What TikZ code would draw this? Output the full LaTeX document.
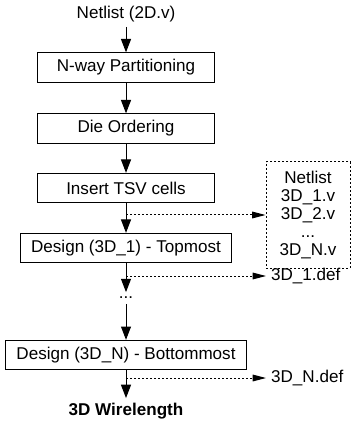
\documentclass[tikz,border=0pt]{standalone}
\usepackage{fontspec}
\setmainfont{Liberation Sans}
\usetikzlibrary{arrows.meta}

\begin{document}
\begin{tikzpicture}[x=0.75pt, y=-0.75pt, line width=0.75pt,
		font=\fontsize{12.8}{13.5}\selectfont,
		stage/.style={draw, minimum height=22pt, inner xsep=8pt},
		fixedstage/.style={stage, minimum width=133pt},
		netbox/.style={draw, dash pattern=on 1.5pt off 1.5pt, align=center, minimum width=63pt, minimum height=79.5pt},
		flow/.style={-{Triangle[length=10pt, width=7.5pt]}},
		outflow/.style={-{Triangle[length=10pt, width=5pt]}, dash pattern=on 1.5pt off 1.5pt}]
		\useasboundingbox (0,0) rectangle (351,423);
		% main flow
		\node (src) at (126,14) {Netlist (2D.v)};
		\node[fixedstage] (part) at (126,67.5) {N-way Partitioning};
		\node[fixedstage] (order) at (126,128.5) {Die Ordering};
		\node[fixedstage] (tsv) at (126,188) {Insert TSV cells};
		\node[stage] (top) at (126,248) {Design (3D\_1) - Topmost};
		\node (dots) at (126,298) {...};
		\node[stage] (bot) at (126,355) {Design (3D\_N) - Bottommost};
		\node[font=\fontsize{12.8}{13.5}\selectfont\bfseries] (wl) at (126,411) {3D Wirelength};
		% outputs
		\node[netbox] (nets) at (308,215) {Netlist\\3D\_1.v\\3D\_2.v\\...\\3D\_N.v};
		\node[anchor=west, inner xsep=3.5pt] (def1) at (266,276) {3D\_1.def};
		\node[anchor=west, inner xsep=3.5pt] (defn) at (266,378) {3D\_N.def};
		\foreach \a/\b in {src/part, part/order, order/tsv, tsv/top, top/dots, dots/bot, bot/wl}{
			\draw[flow] (\a) -- (\b);}
		\coordinate (b1) at (tsv.south |- nets.west);
		\coordinate (b2) at (top.south |- def1.west);
		\coordinate (b3) at (bot.south |- defn.west);
		\draw[outflow] (b1) -- (nets);
		\draw[outflow] (b2) -- (def1);
		\draw[outflow] (b3) -- (defn);
\end{tikzpicture}
\end{document}
